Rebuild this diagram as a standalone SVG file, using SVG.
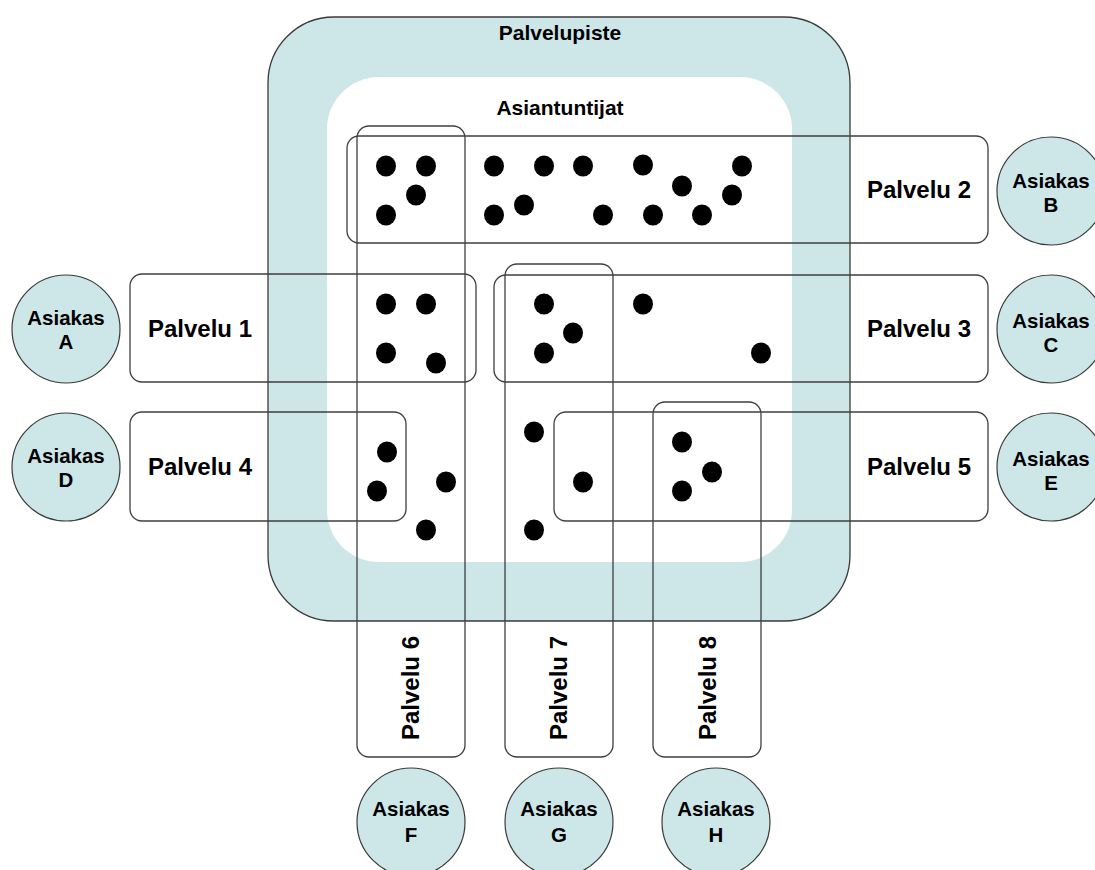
<svg xmlns="http://www.w3.org/2000/svg" width="1095" height="870" viewBox="0 0 1095 870">
  <style>
    .frame { fill: #cde7e9; stroke: #3a3a3a; stroke-width: 1.3; }
    .core { fill: #ffffff; }
    .box { fill: none; stroke: #3f3f3f; stroke-width: 1.3; }
    .client { fill: #cde7e9; stroke: #3a3a3a; stroke-width: 1.2; }
    .t { font-family: "Liberation Sans", Arial, sans-serif; font-weight: bold; fill: #000; text-anchor: middle; }
    .title { font-size: 21px; }
    .svc { font-size: 24px; }
    .cli { font-size: 20.5px; }
    .dot { fill: #000; }
  </style>
  <rect width="1095" height="870" fill="#ffffff"/>

  <!-- Service point with the expert area -->
  <g id="palvelupiste">
    <rect class="frame" x="268" y="17" width="582" height="604" rx="66" ry="66"/>
    <text class="t title" x="560" y="40">Palvelupiste</text>
  </g>
  <g id="asiantuntijat">
    <rect class="core" x="327" y="77" width="465" height="485" rx="52" ry="52"/>
    <text class="t title" x="560" y="115">Asiantuntijat</text>
  </g>

  <!-- Experts -->
  <g id="experts">
    <ellipse class="dot" cx="386" cy="166" rx="10" ry="10.5"/>
    <ellipse class="dot" cx="426" cy="166" rx="10" ry="10.5"/>
    <ellipse class="dot" cx="416" cy="195" rx="10" ry="10.5"/>
    <ellipse class="dot" cx="386" cy="215" rx="10" ry="10.5"/>
    <ellipse class="dot" cx="494" cy="166" rx="10" ry="10.5"/>
    <ellipse class="dot" cx="544" cy="166" rx="10" ry="10.5"/>
    <ellipse class="dot" cx="583" cy="166" rx="10" ry="10.5"/>
    <ellipse class="dot" cx="643" cy="165" rx="10" ry="10.5"/>
    <ellipse class="dot" cx="742" cy="166" rx="10" ry="10.5"/>
    <ellipse class="dot" cx="682" cy="186" rx="10" ry="10.5"/>
    <ellipse class="dot" cx="732" cy="195" rx="10" ry="10.5"/>
    <ellipse class="dot" cx="494" cy="215" rx="10" ry="10.5"/>
    <ellipse class="dot" cx="524" cy="205" rx="10" ry="10.5"/>
    <ellipse class="dot" cx="603" cy="215" rx="10" ry="10.5"/>
    <ellipse class="dot" cx="653" cy="215" rx="10" ry="10.5"/>
    <ellipse class="dot" cx="702" cy="215" rx="10" ry="10.5"/>

    <ellipse class="dot" cx="386" cy="304" rx="10" ry="10.5"/>
    <ellipse class="dot" cx="426" cy="304" rx="10" ry="10.5"/>
    <ellipse class="dot" cx="386" cy="353" rx="10" ry="10.5"/>
    <ellipse class="dot" cx="436" cy="363" rx="10" ry="10.5"/>
    <ellipse class="dot" cx="544" cy="304" rx="10" ry="10.5"/>
    <ellipse class="dot" cx="573" cy="333" rx="10" ry="10.5"/>
    <ellipse class="dot" cx="544" cy="353" rx="10" ry="10.5"/>
    <ellipse class="dot" cx="643" cy="304" rx="10" ry="10.5"/>
    <ellipse class="dot" cx="761" cy="353" rx="10" ry="10.5"/>

    <ellipse class="dot" cx="387" cy="452" rx="10" ry="10.5"/>
    <ellipse class="dot" cx="377" cy="491" rx="10" ry="10.5"/>
    <ellipse class="dot" cx="446" cy="482" rx="10" ry="10.5"/>
    <ellipse class="dot" cx="426" cy="530" rx="10" ry="10.5"/>
    <ellipse class="dot" cx="534" cy="432" rx="10" ry="10.5"/>
    <ellipse class="dot" cx="534" cy="530" rx="10" ry="10.5"/>
    <ellipse class="dot" cx="583" cy="482" rx="10" ry="10.5"/>
    <ellipse class="dot" cx="682" cy="442" rx="10" ry="10.5"/>
    <ellipse class="dot" cx="712" cy="472" rx="10" ry="10.5"/>
    <ellipse class="dot" cx="682" cy="491" rx="10" ry="10.5"/>
  </g>

  <!-- Services -->
  <g id="palvelu-2">
    <rect class="box" x="347" y="136" width="641" height="107" rx="12"/>
    <text class="t svc" x="919" y="198">Palvelu 2</text>
  </g>
  <g id="palvelu-1">
    <rect class="box" x="130" y="274" width="346" height="108" rx="12"/>
    <text class="t svc" x="200" y="337">Palvelu 1</text>
  </g>
  <g id="palvelu-3">
    <rect class="box" x="494" y="275" width="494" height="107" rx="12"/>
    <text class="t svc" x="919" y="337">Palvelu 3</text>
  </g>
  <g id="palvelu-4">
    <rect class="box" x="130" y="412" width="276" height="109" rx="12"/>
    <text class="t svc" x="200" y="475">Palvelu 4</text>
  </g>
  <g id="palvelu-5">
    <rect class="box" x="554" y="412" width="434" height="109" rx="12"/>
    <text class="t svc" x="919" y="475">Palvelu 5</text>
  </g>
  <g id="palvelu-6">
    <rect class="box" x="357" y="126" width="108" height="631" rx="12"/>
    <text class="t svc" transform="translate(419 688) rotate(-90)">Palvelu 6</text>
  </g>
  <g id="palvelu-7">
    <rect class="box" x="505" y="264" width="108" height="493" rx="12"/>
    <text class="t svc" transform="translate(567 688) rotate(-90)">Palvelu 7</text>
  </g>
  <g id="palvelu-8">
    <rect class="box" x="653" y="402" width="108" height="355" rx="12"/>
    <text class="t svc" transform="translate(716 688) rotate(-90)">Palvelu 8</text>
  </g>

  <!-- Clients -->
  <g id="asiakas-a">
    <circle class="client" cx="66" cy="329" r="54"/>
    <text class="t cli" x="66" y="325">Asiakas</text>
    <text class="t cli" x="66" y="349">A</text>
  </g>
  <g id="asiakas-d">
    <circle class="client" cx="66" cy="467" r="54"/>
    <text class="t cli" x="66" y="463">Asiakas</text>
    <text class="t cli" x="66" y="487">D</text>
  </g>
  <g id="asiakas-b">
    <circle class="client" cx="1051" cy="191" r="54"/>
    <text class="t cli" x="1051" y="188">Asiakas</text>
    <text class="t cli" x="1051" y="212">B</text>
  </g>
  <g id="asiakas-c">
    <circle class="client" cx="1051" cy="329" r="54"/>
    <text class="t cli" x="1051" y="328">Asiakas</text>
    <text class="t cli" x="1051" y="352">C</text>
  </g>
  <g id="asiakas-e">
    <circle class="client" cx="1051" cy="467" r="54"/>
    <text class="t cli" x="1051" y="466">Asiakas</text>
    <text class="t cli" x="1051" y="490">E</text>
  </g>
  <g id="asiakas-f">
    <circle class="client" cx="411" cy="822" r="54"/>
    <text class="t cli" x="411" y="816">Asiakas</text>
    <text class="t cli" x="411" y="842">F</text>
  </g>
  <g id="asiakas-g">
    <circle class="client" cx="559" cy="822" r="54"/>
    <text class="t cli" x="559" y="816">Asiakas</text>
    <text class="t cli" x="559" y="842">G</text>
  </g>
  <g id="asiakas-h">
    <circle class="client" cx="716" cy="822" r="54"/>
    <text class="t cli" x="716" y="816">Asiakas</text>
    <text class="t cli" x="716" y="842">H</text>
  </g>

  <!-- No connectors: services are linked to experts by overlap -->
  <g id="connectors"/>
</svg>
